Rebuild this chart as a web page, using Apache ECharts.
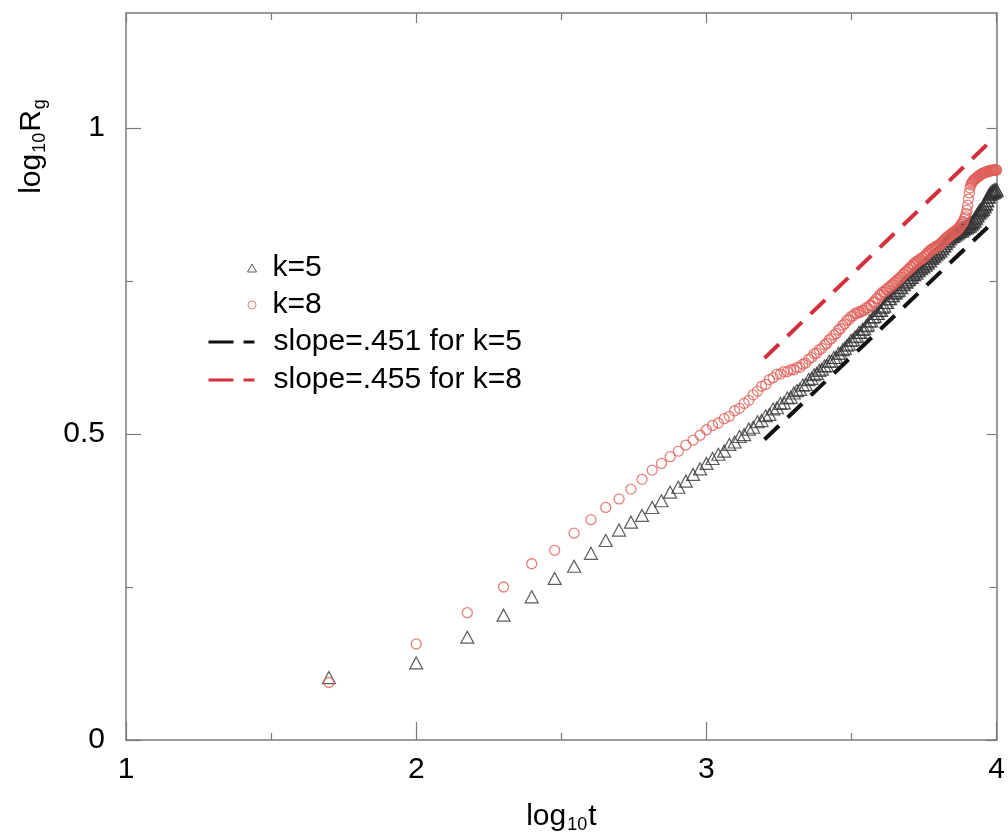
<!DOCTYPE html>
<html><head><meta charset="utf-8">
<script src="https://cdn.jsdelivr.net/npm/echarts@6/dist/echarts.min.js"></script>
<style>html,body{margin:0;padding:0;background:#fff}#c{width:1008px;height:839px}</style>
</head><body><div id="c"></div>
<script>
// log10 t, t = 50, 100, ..., 10000
const logT = [
1.699,2.000,2.176,2.301,2.398,2.477,2.544,2.602,2.653,2.699,
2.740,2.778,2.813,2.845,2.875,2.903,2.929,2.954,2.978,3.000,
3.021,3.041,3.061,3.079,3.097,3.114,3.130,3.146,3.161,3.176,
3.190,3.204,3.217,3.230,3.243,3.255,3.267,3.279,3.290,3.301,
3.312,3.322,3.332,3.342,3.352,3.362,3.371,3.380,3.389,3.398,
3.407,3.415,3.423,3.431,3.439,3.447,3.455,3.462,3.470,3.477,
3.484,3.491,3.498,3.505,3.512,3.519,3.525,3.531,3.538,3.544,
3.550,3.556,3.562,3.568,3.574,3.580,3.585,3.591,3.597,3.602,
3.607,3.613,3.618,3.623,3.628,3.633,3.638,3.643,3.648,3.653,
3.658,3.663,3.667,3.672,3.677,3.681,3.686,3.690,3.695,3.699,
3.703,3.708,3.712,3.716,3.720,3.724,3.728,3.732,3.736,3.740,
3.744,3.748,3.752,3.756,3.760,3.763,3.767,3.771,3.775,3.778,
3.782,3.785,3.789,3.792,3.796,3.799,3.803,3.806,3.810,3.813,
3.816,3.820,3.823,3.826,3.829,3.833,3.836,3.839,3.842,3.845,
3.848,3.851,3.854,3.857,3.860,3.863,3.866,3.869,3.872,3.875,
3.878,3.881,3.884,3.886,3.889,3.892,3.895,3.898,3.900,3.903,
3.906,3.908,3.911,3.914,3.916,3.919,3.922,3.924,3.927,3.929,
3.932,3.934,3.937,3.940,3.942,3.944,3.947,3.949,3.952,3.954,
3.957,3.959,3.961,3.964,3.966,3.968,3.971,3.973,3.975,3.978,
3.980,3.982,3.985,3.987,3.989,3.991,3.993,3.996,3.998,4.000];

// log10 Rg for k=5 (triangles)
const rgK5 = [
.102,.126,.168,.204,.234,.264,.284,.305,.326,.343,
.356,.367,.380,.391,.405,.413,.423,.434,.443,.452,
.460,.467,.472,.483,.487,.496,.499,.508,.511,.520,
.522,.530,.532,.541,.543,.550,.551,.559,.560,.567,
.571,.573,.580,.581,.589,.591,.597,.599,.604,.606,
.611,.612,.619,.619,.625,.625,.632,.632,.638,.640,
.645,.647,.653,.654,.659,.660,.666,.666,.671,.672,
.677,.678,.685,.685,.691,.692,.697,.697,.702,.702,
.707,.709,.715,.715,.721,.721,.726,.726,.730,.731,
.734,.735,.740,.739,.745,.744,.749,.748,.752,.753,
.756,.756,.761,.760,.765,.763,.768,.767,.771,.770,
.774,.773,.778,.776,.781,.779,.784,.783,.788,.787,
.792,.790,.795,.793,.798,.796,.801,.799,.804,.803,
.808,.807,.812,.811,.816,.815,.820,.819,.823,.822,
.826,.823,.828,.825,.829,.827,.831,.829,.833,.831,
.835,.832,.837,.834,.839,.836,.840,.837,.842,.839,
.844,.840,.845,.842,.847,.845,.850,.848,.854,.852,
.858,.856,.862,.860,.866,.863,.868,.865,.870,.867,
.873,.871,.877,.875,.882,.881,.888,.887,.892,.891,
.895,.893,.897,.894,.898,.895,.899,.896,.900,.898];

// log10 Rg for k=8 (circles)
const rgK8 = [
.094,.157,.208,.250,.288,.310,.338,.360,.380,.394,
.410,.426,.441,.452,.463,.472,.482,.490,.498,.507,
.514,.518,.525,.529,.538,.542,.550,.555,.564,.570,
.578,.581,.589,.592,.598,.598,.602,.602,.605,.605,
.609,.609,.614,.616,.622,.625,.631,.632,.638,.640,
.646,.648,.654,.656,.662,.664,.670,.672,.678,.680,
.686,.687,.692,.693,.697,.697,.700,.699,.702,.702,
.706,.706,.710,.710,.715,.716,.721,.722,.727,.728,
.732,.732,.736,.736,.740,.740,.744,.744,.748,.748,
.752,.752,.756,.756,.761,.761,.765,.765,.769,.769,
.773,.773,.777,.777,.781,.780,.783,.783,.786,.785,
.788,.788,.791,.791,.795,.795,.799,.798,.802,.801,
.804,.803,.806,.805,.808,.807,.810,.809,.813,.813,
.816,.816,.819,.819,.822,.821,.824,.824,.827,.826,
.829,.828,.831,.830,.833,.832,.835,.835,.839,.839,
.843,.843,.847,.847,.852,.855,.860,.866,.874,.884,
.894,.902,.907,.910,.912,.914,.915,.916,.917,.918,
.919,.920,.921,.922,.923,.924,.925,.925,.926,.926,
.927,.927,.928,.928,.929,.929,.929,.930,.930,.930,
.930,.931,.931,.931,.931,.931,.931,.932,.932,.931];

// fitted power-law lines (log10 t range and log10 Rg at its ends)
const fitT = [3.2, 3.98];
const fitK5 = [0.491, 0.843];
const fitK8 = [0.624, 0.979];

const yTicks = [0, 0.5, 1];
const yMinorTicks = [0.25, 0.75];
const names = ['k=5', 'k=8', 'slope=.451 for k=5', 'slope=.455 for k=8'];

const pts = (xs, ys) => xs.map((x, i) => [x, ys[i]]);
const FONT = "'Liberation Sans', Arial, Helvetica, sans-serif";
const AX = '#7a7a7a';

const chart = echarts.init(document.getElementById('c'), null, { renderer: 'canvas' });

const xBase = {
  type: 'value', min: 1, max: 4, interval: 1,
  axisLine: { show: true, onZero: false, lineStyle: { color: AX, width: 1.5 } },
  splitLine: { show: false }, minorSplitLine: { show: false }
};
const yBase = {
  type: 'value', min: 0, max: 1.188,
  axisLine: { show: true, onZero: false, lineStyle: { color: AX, width: 1.5 } },
  splitLine: { show: false }
};

chart.setOption({
  animation: false,
  backgroundColor: '#fff',
  grid: { left: 126, right: 7, top: 13, bottom: 95, containLabel: false },
  xAxis: [
    Object.assign({}, xBase, {
      position: 'bottom',
      axisTick: { show: true, inside: true, length: 18, lineStyle: { color: AX, width: 1.2 } },
      minorTick: { show: true, splitNumber: 2, length: 7, lineStyle: { color: AX, width: 1.2 } },
      axisLabel: { show: true, fontSize: 30, color: '#000', margin: 15, fontFamily: FONT },
      name: '{a|log}{s|10}{a|t}',
      nameLocation: 'middle', nameGap: 60,
      nameTextStyle: {
        fontFamily: FONT, color: '#000',
        rich: {
          a: { fontSize: 30, fontFamily: FONT, color: '#000', lineHeight: 34 },
          s: { fontSize: 18, fontFamily: FONT, color: '#000', lineHeight: 20, padding: [16, 1, 0, 1] }
        }
      }
    }),
    Object.assign({}, xBase, {
      position: 'top',
      axisTick: { show: true, inside: true, length: 10, lineStyle: { color: AX, width: 1.2 } },
      minorTick: { show: true, splitNumber: 2, length: 7, lineStyle: { color: AX, width: 1.2 } },
      axisLabel: { show: false }
    })
  ],
  yAxis: [
    Object.assign({}, yBase, {
      position: 'left',
      axisTick: { show: true, inside: true, length: 15, customValues: yTicks, lineStyle: { color: AX, width: 1.2 } },
      axisLabel: { show: true, customValues: yTicks, fontSize: 30, color: '#000', margin: 21, fontFamily: FONT }
    }),
    Object.assign({}, yBase, {
      position: 'right',
      axisTick: { show: true, inside: true, length: 10, customValues: yTicks, lineStyle: { color: AX, width: 1.2 } },
      axisLabel: { show: false }
    }),
    Object.assign({}, yBase, {
      position: 'left',
      axisLine: { show: false },
      axisTick: { show: true, inside: true, length: 7, customValues: yMinorTicks, lineStyle: { color: AX, width: 1.2 } },
      axisLabel: { show: false }
    }),
    Object.assign({}, yBase, {
      position: 'right',
      axisLine: { show: false },
      axisTick: { show: true, inside: true, length: 7, customValues: yMinorTicks, lineStyle: { color: AX, width: 1.2 } },
      axisLabel: { show: false }
    })
  ],
  legend: [
    {
      data: [names[0], names[1]], orient: 'vertical', left: 247, top: 252, padding: 0,
      itemWidth: 9, itemHeight: 8, itemGap: 5, selectedMode: false,
      itemStyle: { borderWidth: 1 },
      textStyle: { fontSize: 30, color: '#000', fontFamily: FONT, lineHeight: 32, padding: [0, 0, 0, 11] }
    },
    {
      data: [names[2], names[3]], orient: 'vertical', left: 207, top: 326, padding: 0,
      itemWidth: 46, itemHeight: 12, itemGap: 6, selectedMode: false,
      itemStyle: { opacity: 0 },
      lineStyle: { width: 3, type: [25, 10] },
      textStyle: { fontSize: 30, color: '#000', fontFamily: FONT, lineHeight: 32, padding: [0, 0, 0, 14] }
    }
  ],
  graphic: [{
    type: 'text', x: 32, y: 146, rotation: Math.PI / 2,
    style: {
      text: '{a|log}{s|10}{a|R}{s|g}',
      align: 'center', verticalAlign: 'middle', fill: '#000',
      rich: {
        a: { fontSize: 30, fontFamily: FONT, fill: '#000', lineHeight: 34 },
        s: { fontSize: 18, fontFamily: FONT, fill: '#000', lineHeight: 20, padding: [16, 1, 0, 1] }
      }
    }
  }],
  series: [
    {
      name: names[2], type: 'line', xAxisIndex: 0, yAxisIndex: 0,
      data: pts(fitT, fitK5), symbol: 'none', silent: true,
      lineStyle: { color: '#111', width: 4, type: [20, 12] }, itemStyle: { color: '#111' }
    },
    {
      name: names[3], type: 'line', xAxisIndex: 0, yAxisIndex: 0,
      data: pts(fitT, fitK8), symbol: 'none', silent: true,
      lineStyle: { color: '#d4303c', width: 4, type: [20, 12] }, itemStyle: { color: '#d4303c' }
    },
    {
      name: names[0], type: 'scatter', xAxisIndex: 0, yAxisIndex: 0,
      data: pts(logT, rgK5), symbol: 'triangle', symbolSize: [13, 12], silent: true,
      itemStyle: { color: 'rgba(255,255,255,0)', borderColor: '#333', borderWidth: 1.2 }
    },
    {
      name: names[1], type: 'scatter', xAxisIndex: 0, yAxisIndex: 0,
      data: pts(logT, rgK8), symbol: 'circle', symbolSize: 10, silent: true,
      itemStyle: { color: 'rgba(255,255,255,0)', borderColor: '#e0605a', borderWidth: 1.3 }
    }
  ]
});
</script>
</body></html>
